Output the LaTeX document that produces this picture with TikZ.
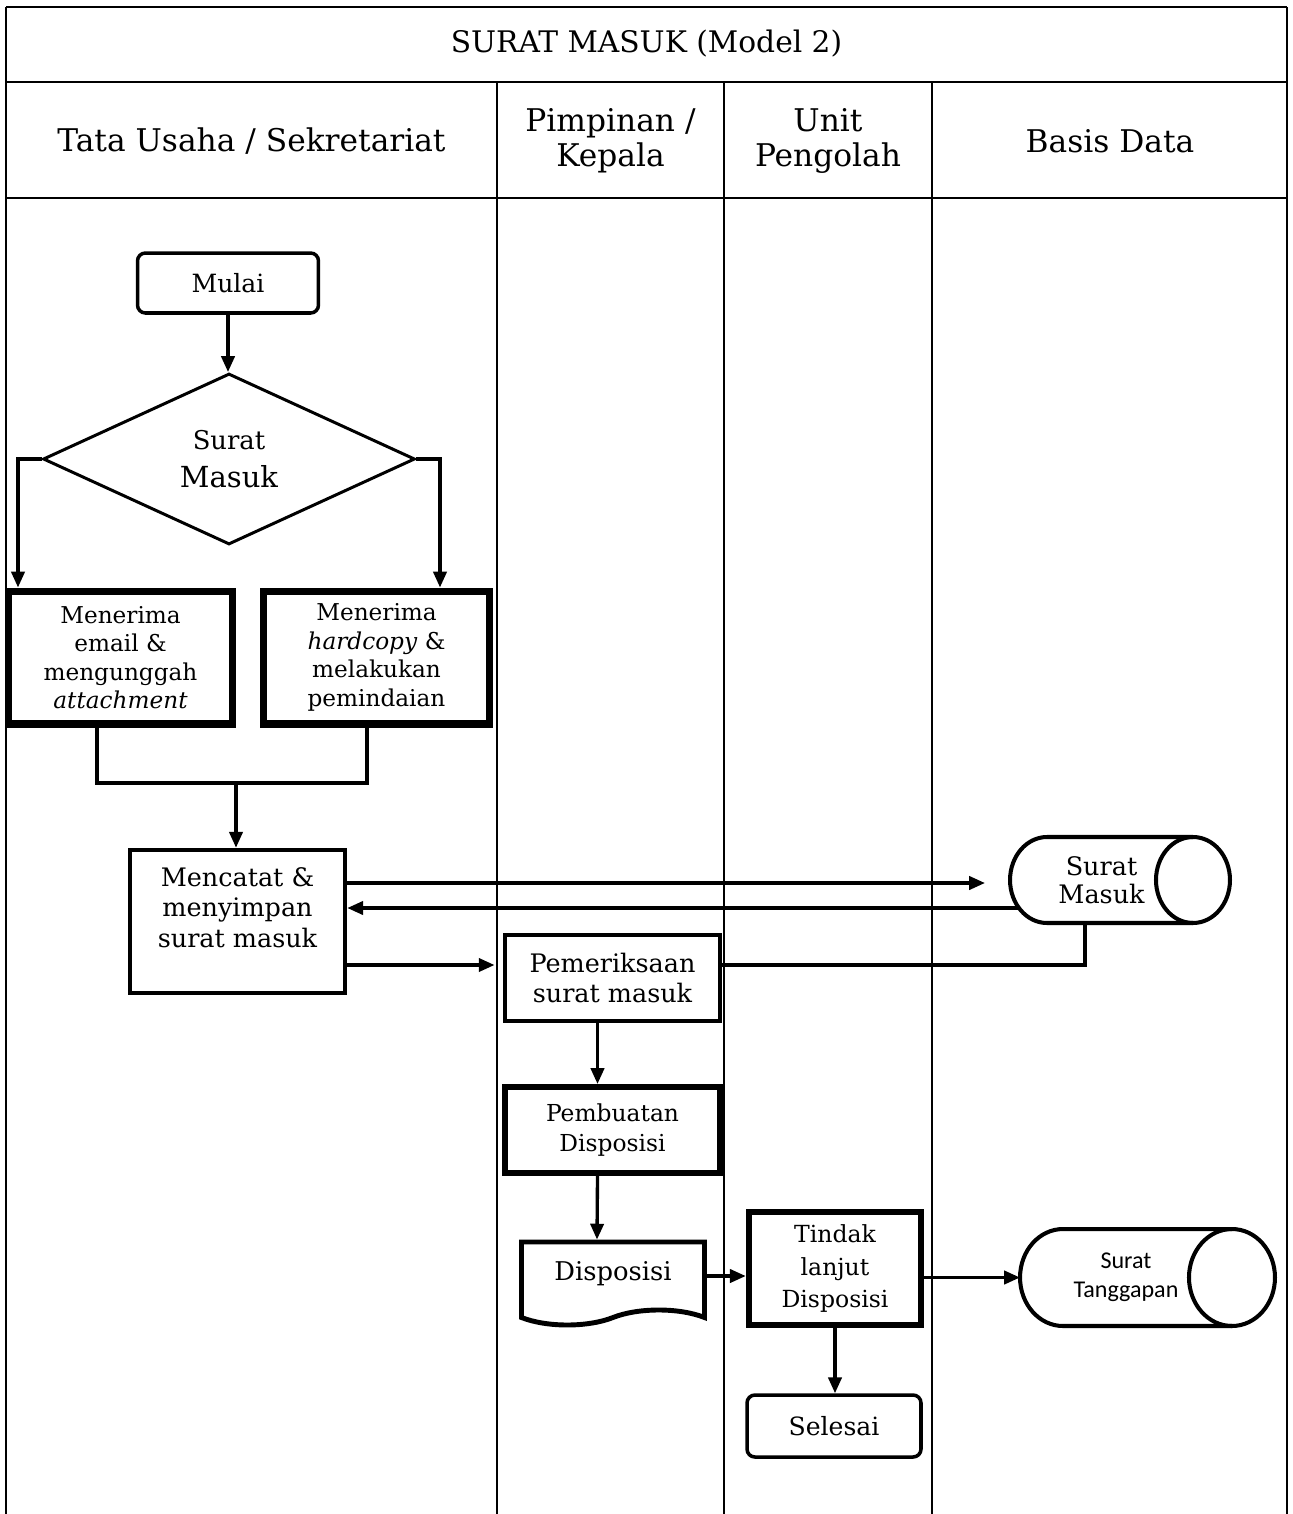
\documentclass[tikz,border=0pt]{standalone}
\usepackage{fontspec}
\setmainfont{DejaVu Serif}
\newfontfamily\calibrifont{Carlito}
\usepackage{tikz}
\usetikzlibrary{arrows.meta, positioning, shapes.geometric, shapes.symbols, calc}

\begin{document}
\begin{tikzpicture}[
  x=0.02cm, y=-0.02cm,
  hline/.style={line width=1.7pt},
  vline/.style={line width=1.1pt},
  head/.style={font=\fontsize{17.8}{20}\selectfont, align=center},
  term/.style={rectangle, rounded corners=4.5pt, draw, line width=2pt,
               font=\fontsize{14.3}{17}\selectfont},
  decide/.style={diamond, draw, line width=1.7pt, inner sep=0pt, align=center,
                 font=\fontsize{14.7}{22}\selectfont},
  inbox/.style={rectangle, draw, line width=4pt, align=center,
                font=\fontsize{13.2}{16.2}\selectfont},
  procbox/.style={rectangle, draw, line width=2.8pt, align=center,
                  font=\fontsize{14.5}{17.5}\selectfont},
  docbox/.style={tape, tape bend top=none, tape bend bottom=in and out, tape bend height=0.3cm,
                 draw, line width=2.8pt, align=center, font=\fontsize{14.7}{17}\selectfont},
  store/.style={rectangle, inner sep=0pt, outer sep=0pt, align=center,
                font=\fontsize{14.5}{16}\selectfont},
  storeline/.style={line width=2.3pt},
  arr/.style={-{Triangle[length=9pt, width=7.5pt]}, line width=1.9pt},
  ln/.style={line width=1.9pt}
]
  \useasboundingbox (0,0) rectangle (1292,1514);

  % Table frame
  \draw[hline] (6,7) -- (1287,7);
  \draw[hline] (6,82) -- (1287,82);
  \draw[hline] (6,198) -- (1287,198);
  \draw[vline] (6,7) -- (6,1514);
  \draw[vline] (1287,7) -- (1287,1514);
  \foreach \xc in {497,724,932}
    \draw[vline] (\xc,82) -- (\xc,1514);

  % Headings
  \node[head, font=\fontsize{16.9}{20}\selectfont] (title) at (646.5,44) {SURAT MASUK (Model 2)};
  \node[head] (tu) at (251.5,141) {Tata Usaha / Sekretariat};
  \node[head] (pim) at (610.5,141) {Pimpinan /\\Kepala};
  \node[head] (unit) at (828,141) {Unit\\Pengolah};
  \node[head] (bd) at (1110,141) {Basis Data};

  % Start
  \node[term, minimum width=3.62cm, minimum height=1.2cm] (mulai) at (228,283) {Mulai};
  % Decision
  \node[decide, minimum width=7.44cm, minimum height=3.42cm] (dia) at (229,459)
    {Surat\\{\fontsize{16.5}{19}\selectfont Masuk}};
  % Receiving
  \node[inbox, minimum width=4.5cm, minimum height=2.66cm] (email) at (120.5,657.5)
    {Menerima\\email \&\\mengunggah\\\textit{attachment}};
  \node[inbox, minimum width=4.54cm, minimum height=2.66cm] (hard) at (376.5,657.5)
    {Menerima\\\textit{hardcopy} \&\\melakukan\\pemindaian};
  \coordinate (join) at (236,783);
  % Recording
  \node[procbox, line width=2.6pt, minimum width=4.3cm, minimum height=2.86cm,
        text depth=0.56cm] (catat) at (237.5,921.5)
    {Mencatat \&\\menyimpan\\surat masuk};
  % Database (body of the drum, outline drawn below)
  \node[store, minimum width=3.66cm, minimum height=1.72cm] (db1) at (1101.5,880) {Surat\\Masuk};
  \draw[storeline] (db1.north east) -- ($(db1.north west)+(37,0)$)
    arc[start angle=90, end angle=270, x radius=0.74cm, y radius=0.86cm] -- (db1.south east);
  \draw[storeline] (db1.east) ellipse [x radius=0.74cm, y radius=0.86cm];
  % Leader
  \node[procbox, minimum width=4.3cm, minimum height=1.72cm] (periksa) at (612.5,978)
    {Pemeriksaan\\surat masuk};
  \node[procbox, line width=3.4pt, font=\fontsize{13.3}{17}\selectfont,
        minimum width=4.3cm, minimum height=1.72cm] (buat) at (612.5,1130)
    {Pembuatan\\Disposisi};
  \node[docbox, minimum width=3.66cm, minimum height=1.66cm, text depth=0.22cm] (dispo) at (613,1276)
    {Disposisi};
  % Unit
  \node[procbox, line width=3.7pt, font=\fontsize{13.4}{18.7}\selectfont,
        minimum width=3.44cm, minimum height=2.26cm] (tindak) at (835,1268.5)
    {Tindak\\lanjut\\Disposisi};
  \node[term, minimum width=3.48cm, minimum height=1.24cm] (selesai) at (834,1426) {Selesai};
  \node[store, font=\calibrifont\fontsize{13.7}{16.4}\selectfont,
        minimum width=4.24cm, minimum height=1.94cm] (db2) at (1126,1277.5) {Surat\\Tanggapan};
  \draw[storeline] (db2.north east) -- ($(db2.north west)+(43,0)$)
    arc[start angle=90, end angle=270, x radius=0.86cm, y radius=0.97cm] -- (db2.south east);
  \draw[storeline] (db2.east) ellipse [x radius=0.86cm, y radius=0.97cm];

  % Arrows
  \draw[arr] (mulai.south) -- (mulai.south |- dia.north);
  \draw[arr] (dia.west) -| ([xshift=0.27cm]email.north west);
  \draw[arr] (dia.east) -| ([xshift=-1.07cm]hard.north east);
  \draw[ln] ([xshift=-0.47cm]email.south) |- (join) -| ([xshift=-0.19cm]hard.south);
  \draw[arr] (join) -- (join |- catat.north);
  \draw[arr] ($(catat.east |- db1.west)+(0,3)$) -- ($(db1.west)+(-25,3)$);
  \draw[arr] ($(db1.west)+(9,28)$) -- ($(catat.east |- db1.west)+(0,28)$);
  \draw[arr] ($(catat.east)+(0,43.5)$) -- ($(catat.east -| periksa.west)+(-8,43.5)$);
  \draw[ln] ($(periksa.east)+(0,-13)$) -| ($(db1.south)+(-16.5,0)$);
  \draw[arr] ([xshift=-0.3cm]periksa.south) -- ([xshift=-0.3cm]buat.north);
  \draw[arr] ([xshift=-0.3cm]buat.south) -- ($(dispo.north)+(-16,0)$);
  \draw[arr] (dispo.east) -- (dispo.east -| tindak.west);
  \draw[arr] (tindak.east |- db2.west) -- (db2.west);
  \draw[arr] (tindak.south) -- (tindak.south |- selesai.north);
\end{tikzpicture}
\end{document}
